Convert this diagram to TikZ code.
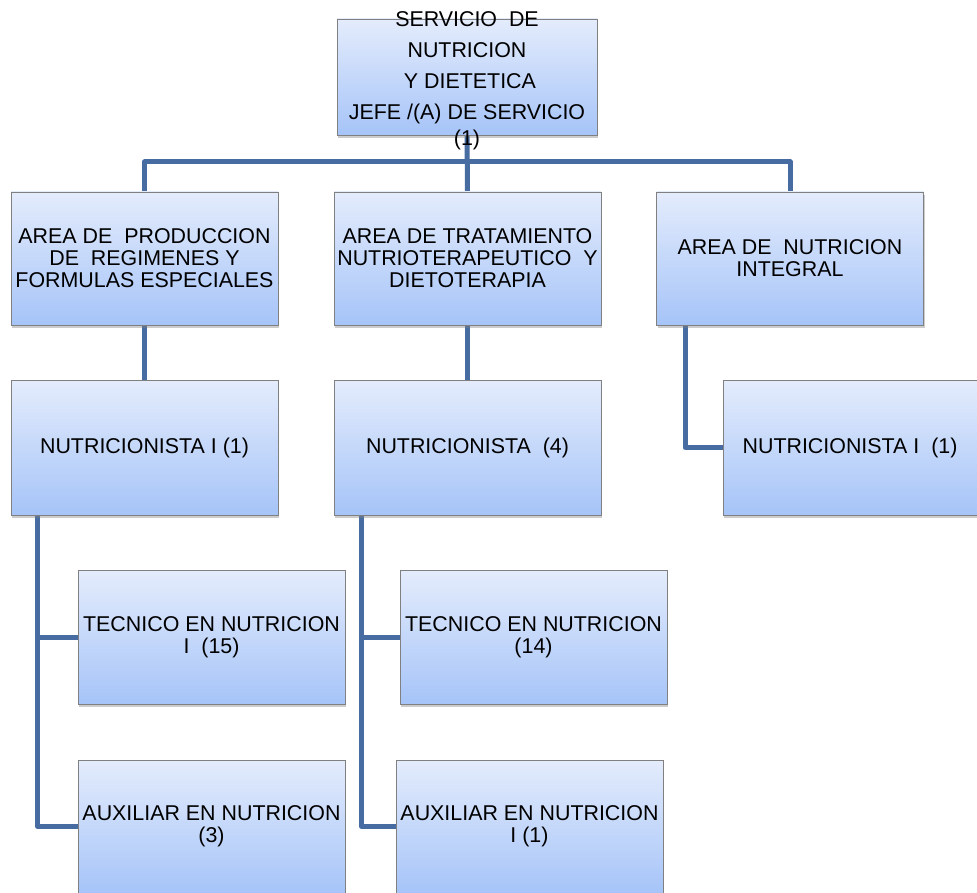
\documentclass[tikz,border=0pt]{standalone}
\usepackage{fontspec}
\setmainfont{Liberation Sans}
\usetikzlibrary{shadows,backgrounds}

\definecolor{boxtop}{RGB}{228,236,252}
\definecolor{boxbot}{RGB}{166,196,248}
\definecolor{boxline}{RGB}{128,128,128}
\definecolor{linkblue}{RGB}{70,108,162}

\begin{document}
\begin{tikzpicture}[x=1pt,y=-1pt,
    box/.style={draw=boxline, line width=0.8pt, top color=boxtop, bottom color=boxbot,
        minimum width=267pt, minimum height=133pt, align=center, inner sep=0pt,
        font=\fontsize{21.4}{22}\selectfont,
        drop shadow={opacity=0.4, shadow xshift=1pt, shadow yshift=-3pt}},
    link/.style={draw=linkblue, line width=5pt, line join=round}]
                \useasboundingbox (0,0) rectangle (977,893);

                % jefatura (text runs over the box edges)
                \node[box, minimum width=260pt, minimum height=116pt] (jefe) at (467,77)
                    {\smash{\raisebox{-8pt}{\fontsize{21.4}{31}\selectfont\begin{tabular}{@{}c@{}}SERVICIO\ \ DE\\NUTRICION\\\ Y DIETETICA\\JEFE /(A) DE SERVICIO\\[-5pt](1)\end{tabular}}}};

                % areas
                \node[box] (a1) at (144.5,258.5) {AREA DE\ \ PRODUCCION\\DE\ \ REGIMENES Y\\FORMULAS ESPECIALES};
                \node[box] (a2) at (467.5,258.5) {AREA DE TRATAMIENTO\\NUTRIOTERAPEUTICO\ \ Y\\DIETOTERAPIA};
                \node[box] (a3) at (790,258.5) {AREA DE\ \ NUTRICION\\INTEGRAL};

                % nutricionistas
                \node[box, minimum height=135pt] (n1) at (144.5,447.5) {NUTRICIONISTA I (1)};
                \node[box, minimum height=135pt] (n2) at (467.5,447.5) {NUTRICIONISTA\ \ (4)};
                \node[box, minimum width=254pt, minimum height=135pt] (n3) at (850,447.5) {NUTRICIONISTA I\ \ (1)};

                % tecnicos y auxiliares
                \node[box, minimum height=134pt] (t1) at (211.5,637) {TECNICO EN NUTRICION\\I\ \ (15)};
                \node[box, minimum height=134pt] (t2) at (533.5,637) {TECNICO EN NUTRICION\\(14)};
                \node[box] (x1) at (211.5,826.5) {AUXILIAR EN NUTRICION\\(3)};
                \node[box] (x2) at (529.5,826.5) {AUXILIAR EN NUTRICION\\I (1)};

                \coordinate (bar) at (467,162);

                \begin{scope}[on background layer]
                \draw[link] (jefe.south) -- (a2.north);
                \draw[link] (a1.north) |- (bar) -| (a3.north);
                \draw[link] (a1.south) -- (n1.north);
                \draw[link] (a2.south) -- (n2.north);
                \draw[link] ([xshift=29pt]a3.south west) |- (n3.west);
                \draw[link] ([xshift=27pt]n1.south west) |- (t1.west);
                \draw[link] ([xshift=27pt]n1.south west) |- (x1.west);
                \draw[link] ([xshift=28pt]n2.south west) |- (t2.west);
                \draw[link] ([xshift=28pt]n2.south west) |- (x2.west);
                \end{scope}
            \end{tikzpicture}
\end{document}
